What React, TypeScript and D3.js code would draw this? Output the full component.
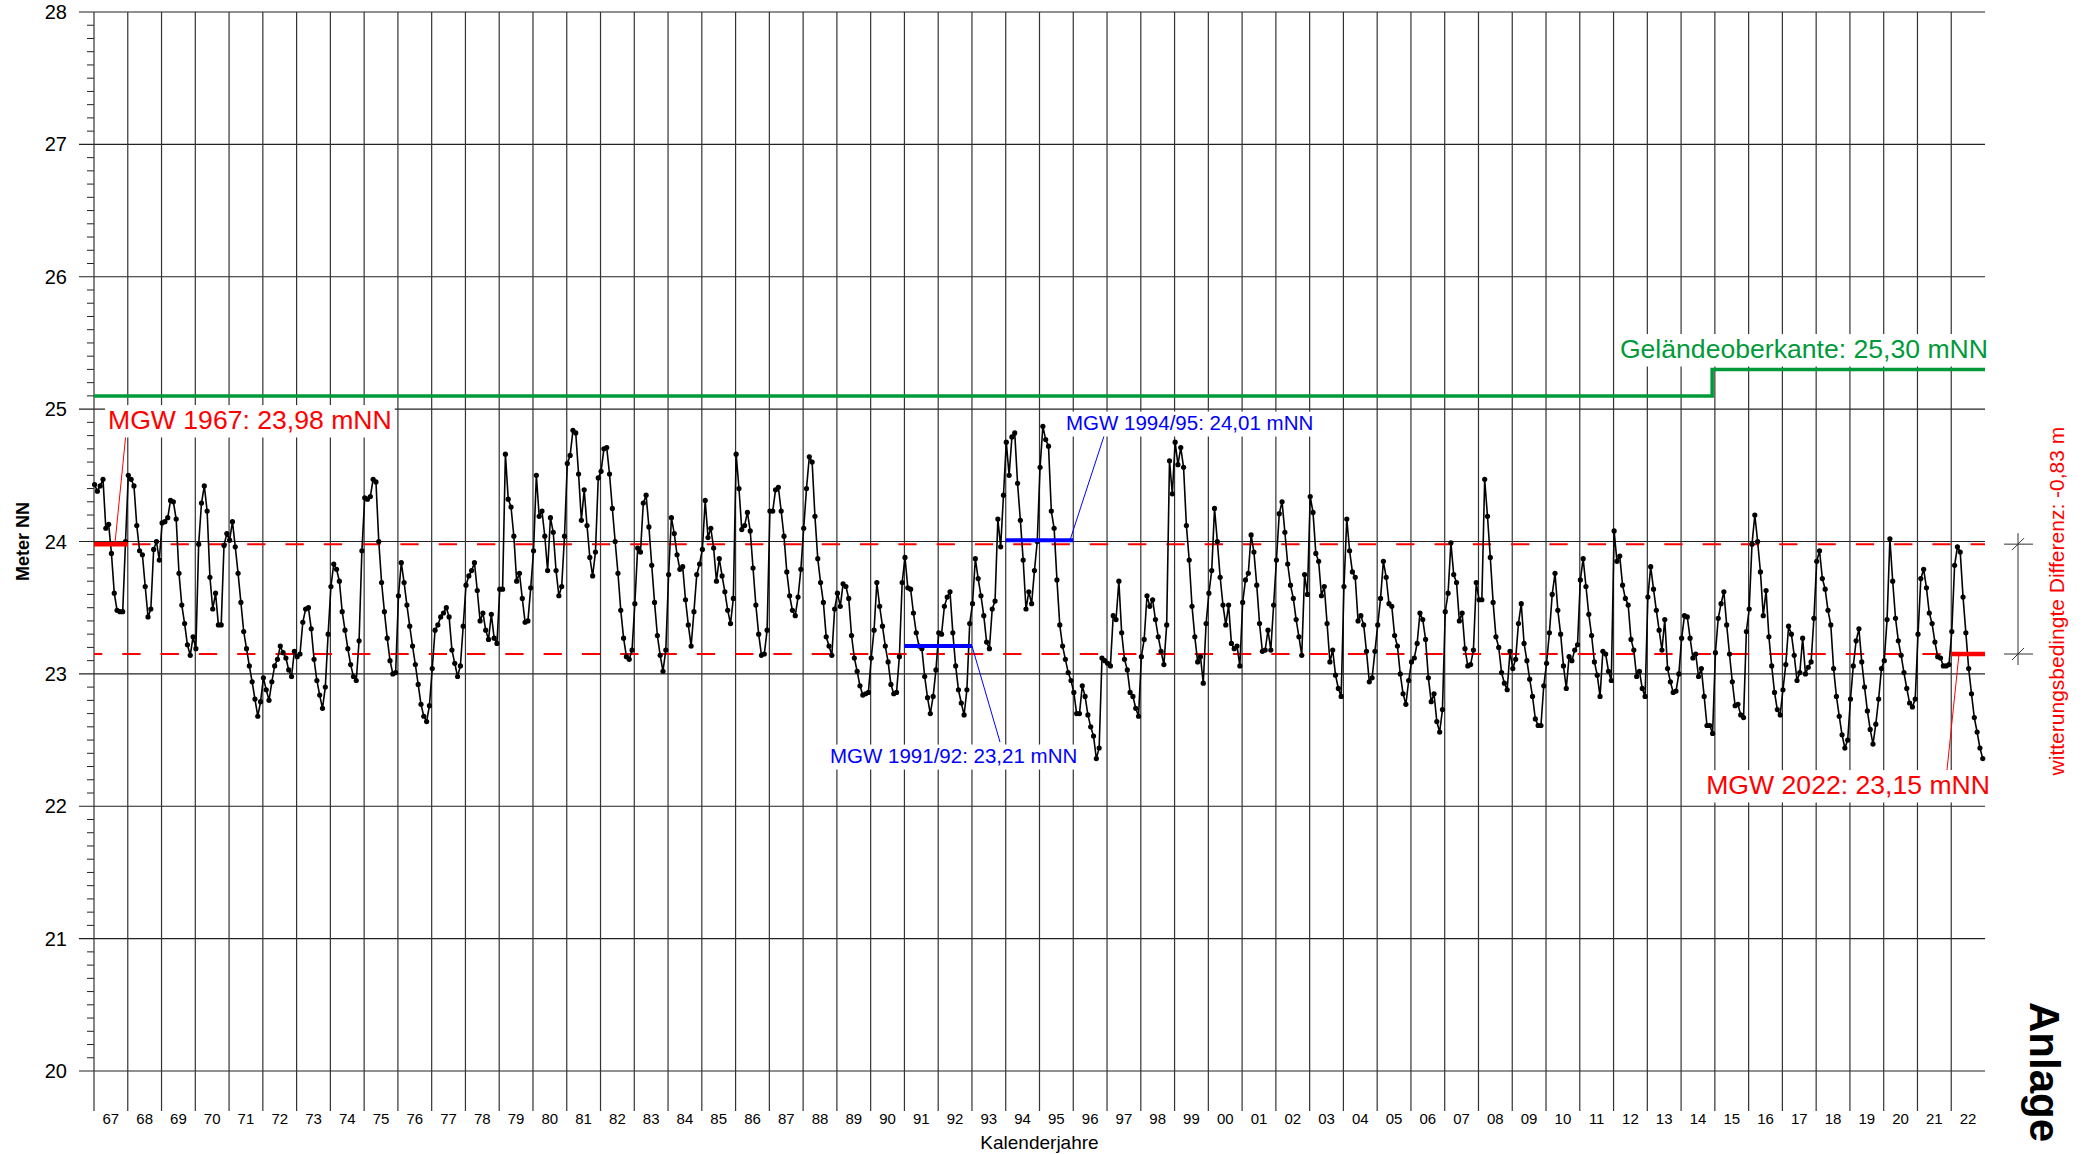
import React from "react";
import * as d3 from "d3";

const FONT = "'Liberation Sans', Arial, Helvetica, sans-serif";
const W = 2089;
const H = 1154;

// Grundwasserstand in m NN, Monatswerte Jan..Dez, eine Zeile je Jahr
const levels1967to1979 = [
  [24.43, 24.38, 24.42, 24.47, 24.10, 24.13, 23.91, 23.61, 23.48, 23.47, 23.47, 24.00],
  [24.50, 24.47, 24.42, 24.12, 23.93, 23.90, 23.66, 23.43, 23.49, 23.94, 24.00, 23.86],
  [24.14, 24.15, 24.18, 24.31, 24.30, 24.17, 23.76, 23.52, 23.38, 23.22, 23.14, 23.28],
  [23.19, 23.98, 24.29, 24.42, 24.23, 23.73, 23.49, 23.61, 23.37, 23.37, 23.97, 24.06],
  [24.01, 24.15, 23.96, 23.76, 23.54, 23.32, 23.19, 23.06, 22.94, 22.81, 22.68, 22.79],
  [22.97, 22.88, 22.80, 22.94, 23.06, 23.11, 23.21, 23.16, 23.12, 23.03, 22.98, 23.17],
  [23.13, 23.15, 23.39, 23.49, 23.50, 23.34, 23.11, 22.95, 22.84, 22.74, 22.90, 23.30],
  [23.66, 23.83, 23.79, 23.70, 23.47, 23.33, 23.19, 23.07, 22.98, 22.95, 23.25, 23.93],
  [24.33, 24.32, 24.34, 24.47, 24.45, 24.00, 23.69, 23.47, 23.27, 23.10, 23.00, 23.01],
  [23.59, 23.84, 23.69, 23.52, 23.36, 23.21, 23.07, 22.92, 22.77, 22.68, 22.64, 22.76],
  [23.04, 23.33, 23.37, 23.43, 23.46, 23.50, 23.43, 23.18, 23.08, 22.98, 23.06, 23.36],
  [23.67, 23.74, 23.78, 23.84, 23.63, 23.40, 23.46, 23.33, 23.26, 23.45, 23.27, 23.23],
  [23.64, 23.64, 24.66, 24.32, 24.26, 24.04, 23.70, 23.76, 23.57, 23.39, 23.40, 23.65],
];

const levels1980to1989 = [
  [23.93, 24.50, 24.19, 24.23, 24.04, 23.78, 24.18, 24.07, 23.78, 23.59, 23.66, 24.04],
  [24.59, 24.65, 24.84, 24.82, 24.51, 24.16, 24.39, 24.12, 23.88, 23.74, 23.92, 24.48],
  [24.53, 24.70, 24.71, 24.51, 24.25, 24.00, 23.76, 23.48, 23.27, 23.13, 23.11, 23.18],
  [23.53, 23.95, 23.92, 24.29, 24.35, 24.11, 23.82, 23.54, 23.29, 23.14, 23.02, 23.18],
  [23.75, 24.18, 24.06, 23.90, 23.79, 23.81, 23.56, 23.37, 23.21, 23.47, 23.75, 23.83],
  [23.94, 24.31, 24.03, 24.10, 23.95, 23.70, 23.87, 23.74, 23.62, 23.48, 23.38, 23.57],
  [24.66, 24.40, 24.09, 24.12, 24.22, 24.08, 23.80, 23.52, 23.30, 23.14, 23.15, 23.33],
  [24.23, 24.23, 24.39, 24.41, 24.23, 24.04, 23.77, 23.59, 23.48, 23.44, 23.58, 23.79],
  [24.10, 24.40, 24.64, 24.60, 24.19, 23.87, 23.69, 23.54, 23.28, 23.21, 23.14, 23.49],
  [23.61, 23.51, 23.68, 23.66, 23.57, 23.29, 23.12, 23.02, 22.91, 22.84, 22.85, 22.86],
];

const levels1990to1999 = [
  [23.12, 23.33, 23.69, 23.51, 23.36, 23.21, 23.09, 22.92, 22.85, 22.86, 23.13, 23.69],
  [23.88, 23.65, 23.64, 23.46, 23.31, 23.21, 23.19, 22.98, 22.82, 22.70, 22.83, 23.03],
  [23.31, 23.30, 23.51, 23.58, 23.62, 23.31, 23.06, 22.88, 22.78, 22.69, 22.88, 23.38],
  [23.53, 23.87, 23.72, 23.59, 23.44, 23.24, 23.19, 23.49, 23.55, 24.17, 23.96, 24.35],
  [24.75, 24.50, 24.79, 24.82, 24.44, 24.16, 23.86, 23.49, 23.62, 23.53, 23.78, 24.00],
  [24.56, 24.87, 24.77, 24.72, 24.23, 24.10, 23.71, 23.37, 23.21, 23.11, 23.01, 22.95],
  [22.86, 22.70, 22.70, 22.91, 22.83, 22.69, 22.60, 22.53, 22.36, 22.44, 23.12, 23.10],
  [23.08, 23.06, 23.44, 23.41, 23.70, 23.31, 23.11, 23.03, 22.86, 22.83, 22.74, 22.68],
  [23.13, 23.26, 23.59, 23.51, 23.56, 23.41, 23.28, 23.17, 23.07, 23.37, 24.61, 24.36],
  [24.75, 24.58, 24.71, 24.56, 24.12, 23.86, 23.51, 23.28, 23.09, 23.13, 22.93, 23.38],
];

const levels2000to2009 = [
  [23.61, 23.78, 24.25, 24.00, 23.73, 23.52, 23.37, 23.52, 23.23, 23.19, 23.21, 23.06],
  [23.54, 23.71, 23.76, 24.05, 23.92, 23.67, 23.38, 23.17, 23.18, 23.33, 23.18, 23.52],
  [23.86, 24.21, 24.30, 24.07, 23.83, 23.67, 23.57, 23.41, 23.28, 23.14, 23.75, 23.60],
  [24.34, 24.22, 23.91, 23.85, 23.59, 23.66, 23.38, 23.09, 23.18, 22.99, 22.89, 22.83],
  [23.66, 24.17, 23.93, 23.77, 23.73, 23.40, 23.44, 23.37, 23.17, 22.94, 22.97, 23.17],
  [23.37, 23.57, 23.85, 23.73, 23.53, 23.51, 23.29, 23.21, 23.00, 22.85, 22.77, 22.95],
  [23.09, 23.12, 23.23, 23.46, 23.41, 23.26, 22.97, 22.79, 22.85, 22.64, 22.56, 22.73],
  [23.47, 23.61, 23.99, 23.75, 23.69, 23.40, 23.46, 23.19, 23.06, 23.07, 23.18, 23.69],
  [23.56, 23.56, 24.47, 24.19, 23.88, 23.54, 23.28, 23.20, 23.01, 22.93, 22.88, 23.17],
  [23.04, 23.11, 23.38, 23.53, 23.23, 23.10, 22.96, 22.83, 22.66, 22.61, 22.61, 22.91],
];

const levels2010to2022 = [
  [23.08, 23.31, 23.60, 23.76, 23.48, 23.30, 23.06, 22.89, 23.13, 23.10, 23.18, 23.22],
  [23.71, 23.87, 23.66, 23.45, 23.29, 23.09, 22.99, 22.83, 23.17, 23.15, 23.02, 22.95],
  [24.08, 23.85, 23.89, 23.67, 23.57, 23.52, 23.26, 23.18, 22.98, 23.02, 22.89, 22.83],
  [23.58, 23.81, 23.64, 23.48, 23.33, 23.18, 23.41, 23.04, 22.94, 22.86, 22.87, 23.00],
  [23.27, 23.44, 23.43, 23.27, 23.12, 23.15, 22.98, 23.04, 22.83, 22.61, 22.61, 22.55],
  [23.16, 23.42, 23.53, 23.62, 23.37, 23.15, 22.94, 22.76, 22.77, 22.69, 22.67, 23.32],
  [23.49, 23.98, 24.20, 24.00, 23.77, 23.44, 23.63, 23.28, 23.06, 22.86, 22.73, 22.69],
  [22.88, 23.07, 23.36, 23.30, 23.14, 22.95, 23.01, 23.27, 23.00, 23.05, 23.09, 23.42],
  [23.85, 23.93, 23.72, 23.64, 23.48, 23.37, 23.04, 22.83, 22.68, 22.54, 22.44, 22.50],
  [22.81, 23.06, 23.25, 23.34, 23.09, 22.90, 22.72, 22.58, 22.47, 22.62, 22.81, 23.04],
  [23.10, 23.41, 24.02, 23.70, 23.42, 23.25, 23.14, 23.01, 22.89, 22.78, 22.75, 22.81],
  [23.30, 23.72, 23.79, 23.65, 23.46, 23.38, 23.24, 23.13, 23.12, 23.06, 23.06, 23.07],
  [23.32, 23.82, 23.96, 23.92, 23.58, 23.31, 23.04, 22.85, 22.67, 22.56, 22.44, 22.36],
];

const firstYear = 1967;
const lastYear = 2022;
const yTicks = [20, 21, 22, 23, 24, 25, 26, 27, 28];

// Mittlere Grundwasserstände (MGW)
const mgw1967 = 23.98;
const mgw2022 = 23.15;
const mgw1991_92 = 23.21;
const mgw1994_95 = 24.01;

// Geländeoberkante, Stufe Ende 2014
const groundSteps = [
  { from: 1967, to: 2014.92, value: 25.1 },
  { from: 2014.92, to: 2023, value: 25.3 },
];

const RED = "#ff0000";
const BLUE = "#0000ff";
const GREEN = "#009a3a";

const measureCtx =
  typeof document !== "undefined" ? document.createElement("canvas").getContext("2d") : null;

function textWidth(t: string, size: number) {
  if (!measureCtx) return t.length * size * 0.55;
  measureCtx.font = `${size}px 'Liberation Sans', Arial, sans-serif`;
  return measureCtx.measureText(t).width;
}

function BoxedLabel({ x, y, text, size, color, anchor = "start" }: any) {
  const w = textWidth(text, size);
  const left = anchor === "end" ? x - w : x;
  return (
    <g>
      <rect x={left - 3} y={y - size * 0.9} width={w + 6} height={size * 1.22} fill="white" />
      <text x={x} y={y} fontSize={size} fill={color} textAnchor={anchor} fontFamily={FONT}>
        {text}
      </text>
    </g>
  );
}

const App = () => {
  const allYears = [
    ...levels1967to1979,
    ...levels1980to1989,
    ...levels1990to1999,
    ...levels2000to2009,
    ...levels2010to2022,
  ];
  const points = allYears.flatMap((row, i) =>
    row.map((v, m) => ({ t: firstYear + i + (m + 0.2) / 12, v }))
  );
  const years = d3.range(firstYear, lastYear + 1);

  const x = d3.scaleLinear().domain([firstYear, lastYear + 1]).range([94, 1985]);
  const y = d3.scaleLinear().domain([20, 28]).range([1071, 12]);

  const line = d3
    .line<{ t: number; v: number }>()
    .x((d) => x(d.t))
    .y((d) => y(d.v));

  const groundPts = groundSteps.flatMap((s) => [
    { t: s.from, v: s.value },
    { t: s.to, v: s.value },
  ]);

  const minorTicks = d3.range(200, 281).filter((k) => k % 10 !== 0).map((k) => k / 10);

  const dimX = 2018;
  const dimTop = y(mgw1967);
  const dimBot = y(mgw2022);

  return (
    <svg
      width={W}
      height={H}
      style={{ position: "absolute", left: 0, top: 0, background: "white" }}
      fontFamily={FONT}
    >
      {/* horizontal grid */}
      {yTicks.map((t) => (
        <line key={"h" + t} x1={79} x2={x(lastYear + 1)} y1={y(t)} y2={y(t)} stroke="#222" strokeWidth={1.2} />
      ))}
      {minorTicks.map((t) => (
        <line key={"m" + t} x1={87} x2={94} y1={y(t)} y2={y(t)} stroke="#222" strokeWidth={1} />
      ))}
      {/* year lines */}
      {years.map((yr) => (
        <line key={"v" + yr} x1={x(yr)} x2={x(yr)} y1={y(28)} y2={1111} stroke="#333" strokeWidth={1.2} />
      ))}
      {yTicks.map((t) => (
        <text key={"yl" + t} x={67} y={y(t)} dy="0.35em" textAnchor="end" fontSize={20} fill="#000">
          {t}
        </text>
      ))}
      {years.map((yr) => (
        <text key={"xl" + yr} x={x(yr + 0.5)} y={1124} textAnchor="middle" fontSize={15} fill="#000">
          {String(yr).slice(2)}
        </text>
      ))}
      <text x={x((firstYear + lastYear + 1) / 2)} y={1149} textAnchor="middle" fontSize={19}>
        Kalenderjahre
      </text>
      <text
        transform={`translate(29,${y(24)}) rotate(-90)`}
        textAnchor="middle"
        fontSize={18}
        fontWeight="bold"
      >
        Meter NN
      </text>

      {/* MGW reference lines */}
      <line x1={x(firstYear)} x2={x(lastYear + 1)} y1={y(mgw1967)} y2={y(mgw1967)} stroke={RED} strokeWidth={2} strokeDasharray="18.3 20" />
      <line x1={x(firstYear)} x2={x(lastYear + 1)} y1={y(mgw2022)} y2={y(mgw2022)} stroke={RED} strokeWidth={2} strokeDasharray="18.3 20" strokeDashoffset={10} />

      {/* ground level */}
      <path d={line(groundPts) || ""} fill="none" stroke={GREEN} strokeWidth={3.5} />

      {/* groundwater series */}
      <path d={line(points) || ""} fill="none" stroke="#000" strokeWidth={1.6} />
      {points.map((p, i) => (
        <circle key={i} cx={x(p.t)} cy={y(p.v)} r={2.6} fill="#000" />
      ))}

      {/* MGW period bars */}
      <line x1={x(1967)} x2={x(1968)} y1={y(mgw1967)} y2={y(mgw1967)} stroke={RED} strokeWidth={4.5} />
      <line x1={x(2022)} x2={x(2023)} y1={y(mgw2022)} y2={y(mgw2022)} stroke={RED} strokeWidth={4.5} />
      <line x1={x(1991)} x2={x(1993)} y1={y(mgw1991_92)} y2={y(mgw1991_92)} stroke={BLUE} strokeWidth={4} />
      <line x1={x(1994)} x2={x(1996)} y1={y(mgw1994_95)} y2={y(mgw1994_95)} stroke={BLUE} strokeWidth={4} />

      {/* leader lines */}
      <line x1={126} y1={433} x2={115} y2={y(mgw1967) - 1} stroke={RED} strokeWidth={1} />
      <line x1={1959} y1={y(mgw2022)} x2={1947} y2={770} stroke={RED} strokeWidth={1} />
      <line x1={972} y1={y(mgw1991_92)} x2={1000} y2={742} stroke={BLUE} strokeWidth={1} />
      <line x1={1105} y1={433} x2={1070} y2={y(mgw1994_95)} stroke={BLUE} strokeWidth={1} />

      {/* labels */}
      <BoxedLabel x={108} y={429} text="MGW 1967: 23,98 mNN" size={26.6} color={RED} />
      <BoxedLabel x={1988} y={358} text="Geländeoberkante: 25,30 mNN" size={26.6} color={GREEN} anchor="end" />
      <BoxedLabel x={1990} y={794} text="MGW 2022: 23,15 mNN" size={26.6} color={RED} anchor="end" />
      <BoxedLabel x={830} y={763} text="MGW 1991/92: 23,21 mNN" size={20.5} color={BLUE} />
      <BoxedLabel x={1066} y={430} text="MGW 1994/95: 24,01 mNN" size={20.5} color={BLUE} />

      {/* weather related difference */}
      <line x1={dimX} x2={dimX} y1={dimTop - 11} y2={dimBot + 11} stroke="#333" strokeWidth={1} />
      {[dimTop, dimBot].map((yy, i) => (
        <g key={"d" + i}>
          <line x1={dimX - 14} x2={dimX + 15} y1={yy} y2={yy} stroke="#333" strokeWidth={1} />
          <line x1={dimX - 6} x2={dimX + 6} y1={yy + 6} y2={yy - 6} stroke="#333" strokeWidth={1} />
        </g>
      ))}
      <text
        transform={`translate(2057,${(dimTop + dimBot) / 2 + 2}) rotate(-90)`}
        textAnchor="middle"
        dy="0.35em"
        fontSize={21}
        fill={RED}
      >
        witterungsbedingte Differenz: -0,83 m
      </text>

      <text transform="translate(2030,1072) rotate(90)" textAnchor="middle" fontSize={42} fontWeight="bold">
        Anlage
      </text>
    </svg>
  );
};

export default App;
